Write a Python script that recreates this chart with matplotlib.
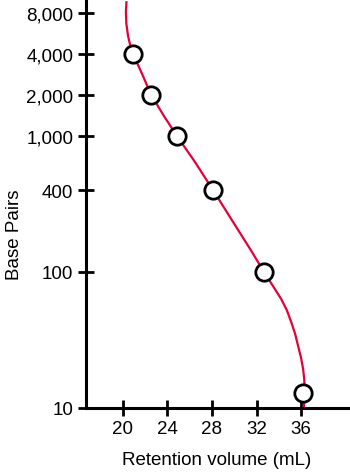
import matplotlib
matplotlib.use("Agg")
import matplotlib.pyplot as plt
from matplotlib.ticker import NullLocator

# measured standards
volume = [20.92, 22.55, 24.86, 28.1, 32.68, 36.18]
base_pairs = [4000, 2000, 1000, 400, 100, 12.9]

# traced calibration curve
curve_x = [20.33, 20.28, 20.32, 20.47, 20.65, 20.92, 21.7, 22.55, 23.7, 24.86, 26.5,
           28.1, 29.8, 31.44, 32.68, 33.45, 34.22, 34.71, 35.11, 35.47, 35.73,
           35.98, 36.18, 36.28, 36.32, 36.29, 36.25]
curve_y = [9620, 8200, 6700, 5460, 4700, 4000, 2900, 2000, 1400, 1000, 640,
           400, 240, 147, 100, 79.4, 63.2, 52.6, 42.9, 35.0, 28.6,
           23.7, 19.4, 16.3, 13.8, 11.6, 10.3]

y_ticks = [10, 100, 400, 1000, 2000, 4000, 8000]
x_ticks = [20, 24, 28, 32, 36]

plt.rcParams['font.family'] = ['Liberation Sans', 'DejaVu Sans']

fig = plt.figure(figsize=(3.5, 4.77), dpi=100)
ax = fig.add_axes([0.2457, 0.1426, 0.7483, 0.8574])

ax.plot(curve_x, curve_y, color='#e4003a', lw=1.6, zorder=3, clip_on=False,
        solid_joinstyle='round')
ax.plot(volume, base_pairs, 'o', ms=12.5, mfc='white', mec='black', mew=2.0,
        zorder=5, clip_on=False)

ax.set_yscale('log')
ax.set_ylim(10, 10160)
ax.set_xlim(16.7, 40.2)
ax.set_yticks(y_ticks)
ax.set_yticklabels([f"{v:,}" for v in y_ticks])
ax.yaxis.set_minor_locator(NullLocator())
ax.set_xticks(x_ticks)
ax.set_xticklabels([str(v) for v in x_ticks])

for s in ['top', 'right']:
    ax.spines[s].set_visible(False)
for s in ['left', 'bottom']:
    ax.spines[s].set_linewidth(2.2)
    ax.spines[s].set_zorder(4)

ax.tick_params(direction='inout', length=12, width=2, labelsize=13.5, pad=3,
               colors='black')

ax.set_ylabel('Base Pairs', fontsize=13.5)
ax.yaxis.set_label_coords(-0.24, 0.425)
ax.set_xlabel('Retention volume (mL)', fontsize=13.5, labelpad=10)

fig.savefig('out.png', dpi=100)
